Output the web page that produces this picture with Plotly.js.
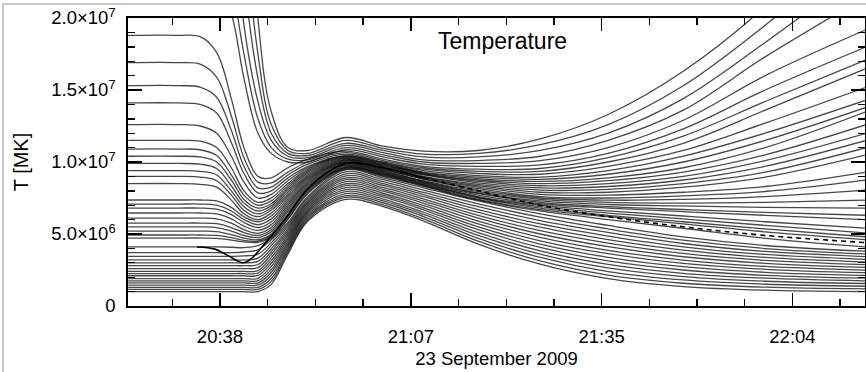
<!DOCTYPE html>
<html>
<head>
<meta charset="utf-8">
<script src="https://cdn.plot.ly/plotly-3.0.1.min.js"></script>
<style>
  html, body { margin: 0; padding: 0; background: #fff; }
  #chart { width: 866px; height: 372px; }
</style>
</head>
<body>
<div id="chart"></div>
<script>
// Time in minutes after 20:00 UT, 23 September 2009
const times = [24.2, 31.8, 35.0, 37.5, 39.7, 41.6, 43.7, 45.7, 48.2, 51.2, 56.9, 62.5, 68.6, 76.8, 86.1, 96.3, 107.6, 119.9, 135.1];

// Temperature curves in MK, upper family (start hot)
const upperCurves = [
  [50, 50, 50, 50, 50, 38, 20, 13.5, 11.0, 10.8, 11.7, 11.1, 10.75, 10.8, 11.6, 13.3, 16.3, 20.8, 28],
  [42, 42, 42, 42, 42, 27, 17.5, 12.6, 10.8, 10.6, 11.5, 10.95, 10.55, 10.6, 11.2, 12.6, 15.3, 19.5, 25.5],
  [36, 36, 36, 36, 36, 23, 15.8, 12.0, 10.6, 10.45, 11.3, 10.8, 10.35, 10.35, 10.8, 12.0, 14.4, 18.3, 23.5],
  [30, 30, 30, 30, 28, 19.5, 14.2, 11.5, 10.4, 10.3, 11.15, 10.65, 10.15, 10.1, 10.4, 11.5, 13.6, 17.3, 21.5],
  [26, 26, 26, 26, 22.5, 17.5, 13.0, 11.0, 10.2, 10.15, 11.0, 10.5, 10.0, 9.9, 10.1, 11.0, 12.9, 16.0, 19.2],
  [23, 23, 23, 22.5, 20.3, 15.8, 12.0, 10.6, 10.0, 10.0, 10.85, 10.35, 9.85, 9.7, 9.8, 10.6, 12.3, 15.0, 18.0],
  [18.8, 18.8, 18.7, 17.6, 14.4, 11.0, 9.0, 8.9, 9.6, 10.2, 10.75, 10.2, 9.7, 9.5, 9.55, 10.3, 11.8, 14.2, 17.1],
  [16.9, 16.9, 16.8, 15.9, 13.2, 10.3, 8.6, 8.55, 9.3, 10.0, 10.65, 10.1, 9.6, 9.35, 9.35, 10.0, 11.3, 13.6, 16.5],
  [15.3, 15.3, 15.2, 14.5, 12.2, 9.7, 8.2, 8.25, 9.1, 9.85, 10.55, 10.0, 9.5, 9.2, 9.15, 9.7, 10.8, 12.7, 15.2],
  [14.1, 14.1, 14.0, 13.4, 11.35, 9.2, 7.85, 8.0, 8.9, 9.7, 10.45, 9.95, 9.4, 9.05, 8.95, 9.4, 10.4, 12.0, 14.3],
  [12.6, 12.6, 12.5, 12.0, 10.4, 8.6, 7.5, 7.75, 8.7, 9.6, 10.4, 9.9, 9.3, 8.95, 8.8, 9.15, 10.0, 11.5, 13.8],
  [11.5, 11.5, 11.45, 11.0, 9.6, 8.0, 7.2, 7.5, 8.5, 9.5, 10.35, 9.85, 9.25, 8.85, 8.65, 8.9, 9.6, 11.0, 13.5],
  [10.9, 10.9, 10.85, 10.45, 9.1, 7.7, 7.0, 7.3, 8.35, 9.4, 10.3, 9.8, 9.2, 8.75, 8.5, 8.7, 9.3, 10.5, 12.6],
  [10.4, 10.4, 10.35, 10.0, 8.75, 7.4, 6.8, 7.1, 8.2, 9.3, 10.25, 9.75, 9.15, 8.65, 8.35, 8.5, 9.0, 10.1, 12.0],
  [9.9, 9.9, 9.85, 9.55, 8.35, 7.15, 6.6, 6.95, 8.05, 9.2, 10.2, 9.7, 9.1, 8.55, 8.2, 8.3, 8.75, 9.7, 11.5],
  [9.4, 9.4, 9.35, 9.1, 8.0, 6.9, 6.4, 6.8, 7.9, 9.1, 10.15, 9.65, 9.0, 8.45, 8.05, 8.1, 8.5, 9.3, 11.0],
  [9.0, 9.0, 8.95, 8.7, 7.7, 6.65, 6.2, 6.65, 7.75, 9.0, 10.1, 9.6, 8.95, 8.35, 7.9, 7.9, 8.25, 8.95, 10.5],
  [8.5, 8.5, 8.45, 8.25, 7.35, 6.4, 6.0, 6.45, 7.6, 8.9, 10.05, 9.55, 8.9, 8.25, 7.75, 7.7, 7.9, 8.3, 9.3],
  [7.36, 7.36, 7.36, 7.3, 6.85, 6.2, 5.85, 6.25, 7.45, 8.8, 10.0, 9.5, 8.85, 8.15, 7.6, 7.5, 7.65, 7.95, 8.75],
  [7.08, 7.08, 7.08, 7.0, 6.6, 6.0, 5.65, 6.05, 7.3, 8.7, 9.95, 9.45, 8.8, 8.05, 7.5, 7.35, 7.4, 7.6, 8.05],
  [6.8, 6.8, 6.8, 6.72, 6.35, 5.8, 5.45, 5.85, 7.15, 8.6, 9.9, 9.4, 8.7, 7.95, 7.4, 7.2, 7.15, 7.2, 7.36],
  [6.46, 6.46, 6.46, 6.4, 6.05, 5.55, 5.25, 5.65, 7.0, 8.5, 9.85, 9.35, 8.65, 7.85, 7.3, 7.05, 6.95, 6.85, 6.8],
  [6.1, 6.1, 6.1, 6.05, 5.75, 5.3, 5.05, 5.45, 6.85, 8.4, 9.8, 9.3, 8.6, 7.8, 7.2, 6.9, 6.7, 6.5, 6.3],
  [5.76, 5.76, 5.76, 5.72, 5.45, 5.1, 4.9, 5.3, 6.7, 8.3, 9.75, 9.25, 8.55, 7.7, 7.1, 6.8, 6.55, 6.3, 6.0],
  [5.49, 5.49, 5.49, 5.45, 5.2, 4.9, 4.75, 5.15, 6.55, 8.2, 9.7, 9.2, 8.5, 7.6, 7.0, 6.6, 6.25, 5.85, 5.4],
  [5.2, 5.2, 5.2, 5.17, 4.95, 4.72, 4.6, 5.0, 6.4, 8.1, 9.65, 9.15, 8.45, 7.55, 6.9, 6.45, 6.05, 5.6, 5.07],
  [4.93, 4.93, 4.93, 4.9, 4.75, 4.55, 4.5, 4.9, 6.25, 8.0, 9.6, 9.1, 8.4, 7.5, 6.8, 6.3, 5.85, 5.35, 4.8],
  [4.72, 4.72, 4.72, 4.7, 4.58, 4.45, 4.42, 4.8, 6.1, 7.9, 9.55, 9.05, 8.35, 7.4, 6.7, 6.2, 5.7, 5.15, 4.6],
  [4.1, 4.1, 4.1, 4.1, 4.08, 4.05, 4.2, 4.7, 6.0, 7.8, 9.5, 9.0, 8.3, 7.35, 6.6, 6.0, 5.4, 4.7, 4.1]
];

// Lower family (start cool)
const lowerCurves = [
  [3.7, 3.7, 3.7, 3.7, 3.7, 3.75, 3.9, 4.6, 5.8, 7.6, 9.45, 8.9, 8.2, 7.3, 6.4, 5.6, 4.8, 4.2, 3.8],
  [3.45, 3.45, 3.45, 3.45, 3.45, 3.48, 3.6, 4.39, 5.65, 7.49, 9.31, 8.77, 8.05, 7.1, 6.17, 5.35, 4.57, 3.99, 3.61],
  [3.2, 3.2, 3.2, 3.2, 3.2, 3.2, 3.33, 4.19, 5.51, 7.37, 9.18, 8.63, 7.89, 6.9, 5.93, 5.11, 4.34, 3.79, 3.43],
  [3.0, 3.0, 3.0, 3.0, 3.0, 3.0, 3.1, 3.98, 5.36, 7.26, 9.04, 8.5, 7.74, 6.7, 5.7, 4.86, 4.11, 3.58, 3.24],
  [2.8, 2.8, 2.8, 2.8, 2.8, 2.8, 2.88, 3.77, 5.21, 7.15, 8.9, 8.37, 7.59, 6.5, 5.47, 4.61, 3.88, 3.37, 3.05],
  [2.6, 2.6, 2.6, 2.6, 2.6, 2.6, 2.66, 3.57, 5.07, 7.03, 8.77, 8.23, 7.43, 6.3, 5.23, 4.37, 3.65, 3.17, 2.87],
  [2.4, 2.4, 2.4, 2.4, 2.4, 2.4, 2.45, 3.36, 4.92, 6.92, 8.63, 8.1, 7.28, 6.1, 5.0, 4.12, 3.42, 2.96, 2.68],
  [2.25, 2.25, 2.25, 2.25, 2.25, 2.25, 2.29, 3.15, 4.77, 6.81, 8.49, 7.97, 7.13, 5.9, 4.77, 3.87, 3.19, 2.75, 2.49],
  [2.1, 2.1, 2.1, 2.1, 2.1, 2.1, 2.12, 2.95, 4.63, 6.69, 8.36, 7.83, 6.97, 5.7, 4.53, 3.63, 2.96, 2.55, 2.31],
  [1.9, 1.9, 1.9, 1.9, 1.9, 1.9, 1.92, 2.74, 4.48, 6.58, 8.22, 7.7, 6.82, 5.5, 4.3, 3.38, 2.73, 2.34, 2.12],
  [1.75, 1.75, 1.75, 1.75, 1.75, 1.75, 1.76, 2.53, 4.33, 6.47, 8.08, 7.57, 6.67, 5.3, 4.07, 3.13, 2.5, 2.13, 1.93],
  [1.6, 1.6, 1.6, 1.6, 1.6, 1.6, 1.61, 2.33, 4.19, 6.35, 7.95, 7.43, 6.51, 5.1, 3.83, 2.89, 2.27, 1.93, 1.75],
  [1.45, 1.45, 1.45, 1.45, 1.45, 1.45, 1.46, 2.12, 4.04, 6.24, 7.81, 7.3, 6.36, 4.9, 3.6, 2.64, 2.04, 1.72, 1.56],
  [1.3, 1.3, 1.3, 1.3, 1.3, 1.3, 1.3, 1.91, 3.89, 6.13, 7.67, 7.17, 6.21, 4.7, 3.37, 2.39, 1.81, 1.51, 1.37],
  [1.15, 1.15, 1.15, 1.15, 1.15, 1.15, 1.15, 1.71, 3.75, 6.01, 7.54, 7.03, 6.05, 4.5, 3.13, 2.15, 1.58, 1.31, 1.19],
  [1.0, 1.0, 1.0, 1.0, 1.0, 1.0, 1.0, 1.5, 3.6, 5.9, 7.4, 6.9, 5.9, 4.3, 2.9, 1.9, 1.35, 1.1, 1.0]
];

// Highlighted (black) curve
const specialTimes = [34.55, 37.25, 39.2, 41.46, 42.96, 44.31, 47.77, 51.52, 56.9, 62.5, 68.6, 76.8, 86.1, 96.3, 107.6, 119.9, 135.1];
const specialCurve = [4.1, 3.95, 3.5, 3.0, 3.4, 4.1, 6.0, 8.3, 9.9, 9.6, 8.9, 8.0, 7.0, 6.2, 5.5, 4.9, 4.4];
const specialDashFrom = 10; // index where the curve becomes dashed

const xTickVals = [38, 66.667, 95.333, 124];
const xTickText = ['20:38', '21:07', '21:35', '22:04'];
const yTickVals = [0, 5e6, 1e7, 1.5e7, 2e7];
const yTickText = ['0', '5.0×10<sup>6</sup>', '1.0×10<sup>7</sup>', '1.5×10<sup>7</sup>', '2.0×10<sup>7</sup>'];

const MK = 1e6;
const traces = [];
function addCurve(xs, vals, line) {
  traces.push({
    x: xs, y: vals.map(v => v * MK), type: 'scatter', mode: 'lines',
    line: Object.assign({shape: 'spline', smoothing: 1}, line),
    hoverinfo: 'skip', showlegend: false
  });
}
const thin = {color: 'rgba(0,0,0,0.72)', width: 1.3};
lowerCurves.forEach(c => addCurve(times, c, thin));
upperCurves.forEach(c => addCurve(times, c, thin));
addCurve(specialTimes.slice(0, specialDashFrom + 1), specialCurve.slice(0, specialDashFrom + 1), {color: '#000', width: 1.6});
addCurve(specialTimes.slice(specialDashFrom), specialCurve.slice(specialDashFrom), {color: '#000', width: 1.6, dash: '5px,4px'});

const font = {family: 'Liberation Sans, Arial, Helvetica, sans-serif', color: '#000'};
const layout = {
  width: 866, height: 372,
  margin: {l: 128, r: 1, t: 18, b: 66},
  paper_bgcolor: '#fff', plot_bgcolor: '#fff',
  font: Object.assign({size: 18}, font),
  showlegend: false,
  xaxis: {
    range: [24.18, 134.9], showgrid: false, zeroline: false,
    showline: true, linecolor: '#000', linewidth: 1.7, mirror: 'ticks',
    ticks: 'inside', ticklen: 13, tickwidth: 1.6, tickcolor: '#000',
    tickvals: xTickVals, ticktext: xTickText, ticklabelstandoff: 13,
    tickfont: Object.assign({size: 18.5}, font),
    minor: {ticks: 'inside', ticklen: 7, tickwidth: 1.4, tickcolor: '#000', tick0: 38, dtick: 7.16667, showgrid: false},
    title: {text: '23 September 2009', font: Object.assign({size: 18.5}, font), standoff: 6}
  },
  yaxis: {
    range: [0, 2e7], showgrid: false, zeroline: false,
    showline: true, linecolor: '#000', linewidth: 1.7, mirror: 'ticks',
    ticks: 'inside', ticklen: 14, tickwidth: 1.6, tickcolor: '#000',
    tickvals: yTickVals, ticktext: yTickText, ticklabelstandoff: 7,
    tickfont: Object.assign({size: 18.5}, font),
    minor: {ticks: 'inside', ticklen: 7, tickwidth: 1.4, tickcolor: '#000', tick0: 0, dtick: 1e6, showgrid: false},
    title: {text: 'T [MK]', font: Object.assign({size: 20}, font), standoff: 17}
  },
  annotations: [{
    text: 'Temperature', xref: 'paper', yref: 'paper', x: 0.508, y: 0.92,
    xanchor: 'center', yanchor: 'middle', showarrow: false,
    font: Object.assign({size: 23}, font)
  }],
  shapes: [{
    type: 'rect', xref: 'paper', yref: 'paper',
    x0: -0.1696, x1: 1.2, y0: -0.3, y1: 1.0486,
    line: {color: '#b8b8b8', width: 1.5}, fillcolor: 'rgba(0,0,0,0)', layer: 'below'
  }]
};
Plotly.newPlot('chart', traces, layout, {staticPlot: true, displayModeBar: false});
</script>
</body>
</html>
